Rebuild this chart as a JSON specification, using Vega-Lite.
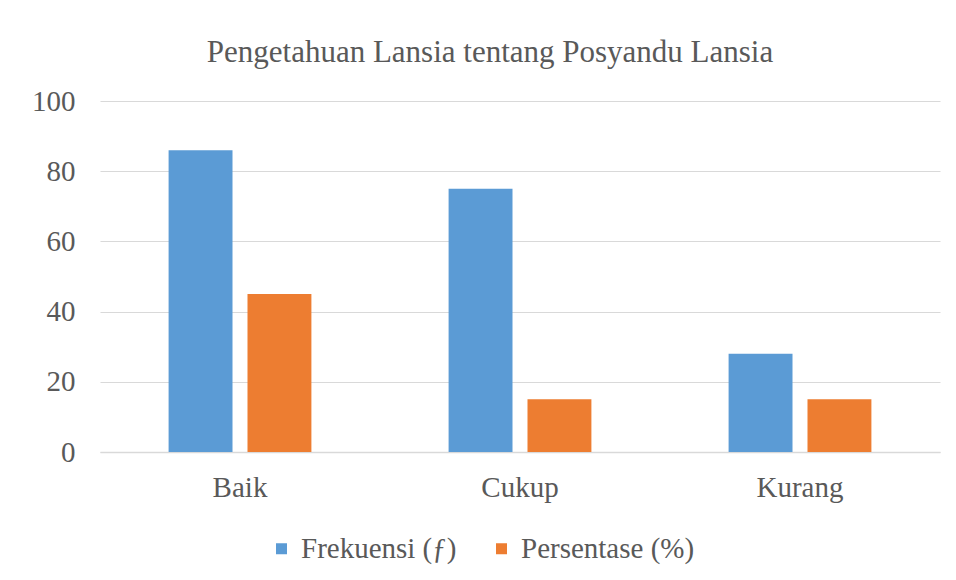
{
  "$schema": "https://vega.github.io/schema/vega-lite/v6.json",
  "width": 840,
  "height": 351,
  "autosize": "none",
  "padding": {"left": 100, "top": 101, "right": 16, "bottom": 128},
  "background": "white",
  "title": {
    "text": "Pengetahuan Lansia tentang Posyandu Lansia",
    "font": "Liberation Serif",
    "fontSize": 31,
    "fontWeight": "normal",
    "color": "#595959",
    "anchor": "middle",
    "dx": -30,
    "offset": 18
  },
  "data": {
    "values": [
      {"kategori": "Baik", "seri": "Frekuensi (ƒ)", "nilai": 86},
      {"kategori": "Baik", "seri": "Persentase (%)", "nilai": 45},
      {"kategori": "Cukup", "seri": "Frekuensi (ƒ)", "nilai": 75},
      {"kategori": "Cukup", "seri": "Persentase (%)", "nilai": 15},
      {"kategori": "Kurang", "seri": "Frekuensi (ƒ)", "nilai": 28},
      {"kategori": "Kurang", "seri": "Persentase (%)", "nilai": 15}
    ]
  },
  "mark": {"type": "bar"},
  "encoding": {
    "x": {
      "field": "kategori",
      "type": "nominal",
      "sort": ["Baik", "Cukup", "Kurang"],
      "scale": {"paddingInner": 0.49, "paddingOuter": 0.245},
      "axis": {
        "title": null,
        "labelAngle": 0,
        "labelFont": "Liberation Serif",
        "labelFontSize": 29,
        "labelColor": "#595959",
        "labelPadding": 21,
        "ticks": false,
        "domainColor": "#d9d9d9",
        "domainWidth": 1.5
      }
    },
    "xOffset": {
      "field": "seri",
      "type": "nominal",
      "scale": {"paddingInner": 0.19, "paddingOuter": 0}
    },
    "y": {
      "field": "nilai",
      "type": "quantitative",
      "scale": {"domain": [0, 100], "nice": false},
      "axis": {
        "title": null,
        "values": [0, 20, 40, 60, 80, 100],
        "labelFont": "Liberation Serif",
        "labelFontSize": 29,
        "labelColor": "#595959",
        "labelPadding": 25,
        "ticks": false,
        "domain": false,
        "gridColor": "#d9d9d9",
        "gridWidth": 1.2
      }
    },
    "color": {
      "field": "seri",
      "type": "nominal",
      "scale": {"range": ["#5b9bd5", "#ed7d31"]},
      "legend": {
        "title": null,
        "orient": "none",
        "direction": "horizontal",
        "legendX": 167,
        "legendY": 433,
        "symbolType": "square",
        "symbolSize": 121,
        "symbolStrokeWidth": 0,
        "labelFont": "Liberation Serif",
        "labelFontSize": 29,
        "labelColor": "#595959",
        "labelOffset": 5,
        "labelLimit": 400,
        "columnPadding": 30
      }
    }
  },
  "config": {"view": {"stroke": null}}
}
